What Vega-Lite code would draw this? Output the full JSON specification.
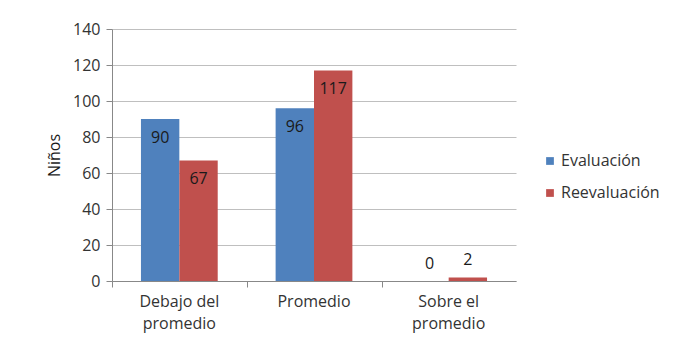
{
  "$schema": "https://vega.github.io/schema/vega-lite/v6.json",
  "width": 404,
  "height": 252,
  "autosize": {"type": "none"},
  "padding": {"left": 112, "top": 29, "right": 167, "bottom": 64},
  "background": "white",
  "data": {
    "values": [
      {"cat": "Debajo del promedio", "serie": "Evaluación", "n": 90},
      {"cat": "Debajo del promedio", "serie": "Reevaluación", "n": 67},
      {"cat": "Promedio", "serie": "Evaluación", "n": 96},
      {"cat": "Promedio", "serie": "Reevaluación", "n": 117},
      {"cat": "Sobre el promedio", "serie": "Evaluación", "n": 0},
      {"cat": "Sobre el promedio", "serie": "Reevaluación", "n": 2}
    ]
  },
  "encoding": {
    "x": {
      "field": "cat", "type": "nominal", "sort": null,
      "scale": {"paddingInner": 0.43, "paddingOuter": 0.215},
      "axis": {
        "title": null, "labelAngle": 0, "bandPosition": -0.368,
        "labelExpr": "datum.label == 'Debajo del promedio' ? ['Debajo del','promedio'] : datum.label == 'Sobre el promedio' ? ['Sobre el','promedio'] : datum.label",
        "labelLineHeight": 22, "labelPadding": 6, "tickSize": 6,
        "domainColor": "#888888", "tickColor": "#888888", "grid": false
      }
    },
    "xOffset": {"field": "serie", "type": "nominal", "sort": ["Evaluación", "Reevaluación"]},
    "y": {
      "field": "n", "type": "quantitative",
      "scale": {"domain": [0, 140], "nice": false},
      "axis": {
        "title": "Niños", "values": [0, 20, 40, 60, 80, 100, 120, 140],
        "tickSize": 6, "labelPadding": 6, "titlePadding": 10,
        "domainColor": "#888888", "tickColor": "#888888", "gridColor": "#BFBFBF"
      }
    }
  },
  "layer": [
    {
      "mark": {"type": "bar"},
      "encoding": {
        "color": {
          "field": "serie", "type": "nominal",
          "scale": {"domain": ["Evaluación", "Reevaluación"], "range": ["#4F81BD", "#C0504D"]},
          "legend": {
            "title": null, "orient": "none", "legendX": 430, "legendY": 124,
            "symbolType": "square", "symbolSize": 60, "rowPadding": 16,
            "labelFontSize": 16, "labelColor": "#333333", "labelOffset": 3,
            "symbolStrokeWidth": 0
          }
        }
      }
    },
    {
      "transform": [{"filter": "datum.n >= 10"}],
      "mark": {"type": "text", "baseline": "top", "dy": 11, "fontSize": 16, "color": "#1a1a1a"},
      "encoding": {"text": {"field": "n", "type": "quantitative"}}
    },
    {
      "transform": [{"filter": "datum.n < 10"}],
      "mark": {"type": "text", "baseline": "bottom", "dy": -9, "fontSize": 16, "color": "#1a1a1a"},
      "encoding": {"text": {"field": "n", "type": "quantitative"}}
    }
  ],
  "config": {
    "font": "Open Sans",
    "view": {"stroke": null},
    "axis": {"labelFontSize": 16, "labelColor": "#333333", "titleFontSize": 16, "titleColor": "#1a1a1a", "titleFontWeight": "normal", "labelFont": "Open Sans", "titleFont": "Open Sans"},
    "legend": {"labelFont": "Open Sans"}
  }
}
